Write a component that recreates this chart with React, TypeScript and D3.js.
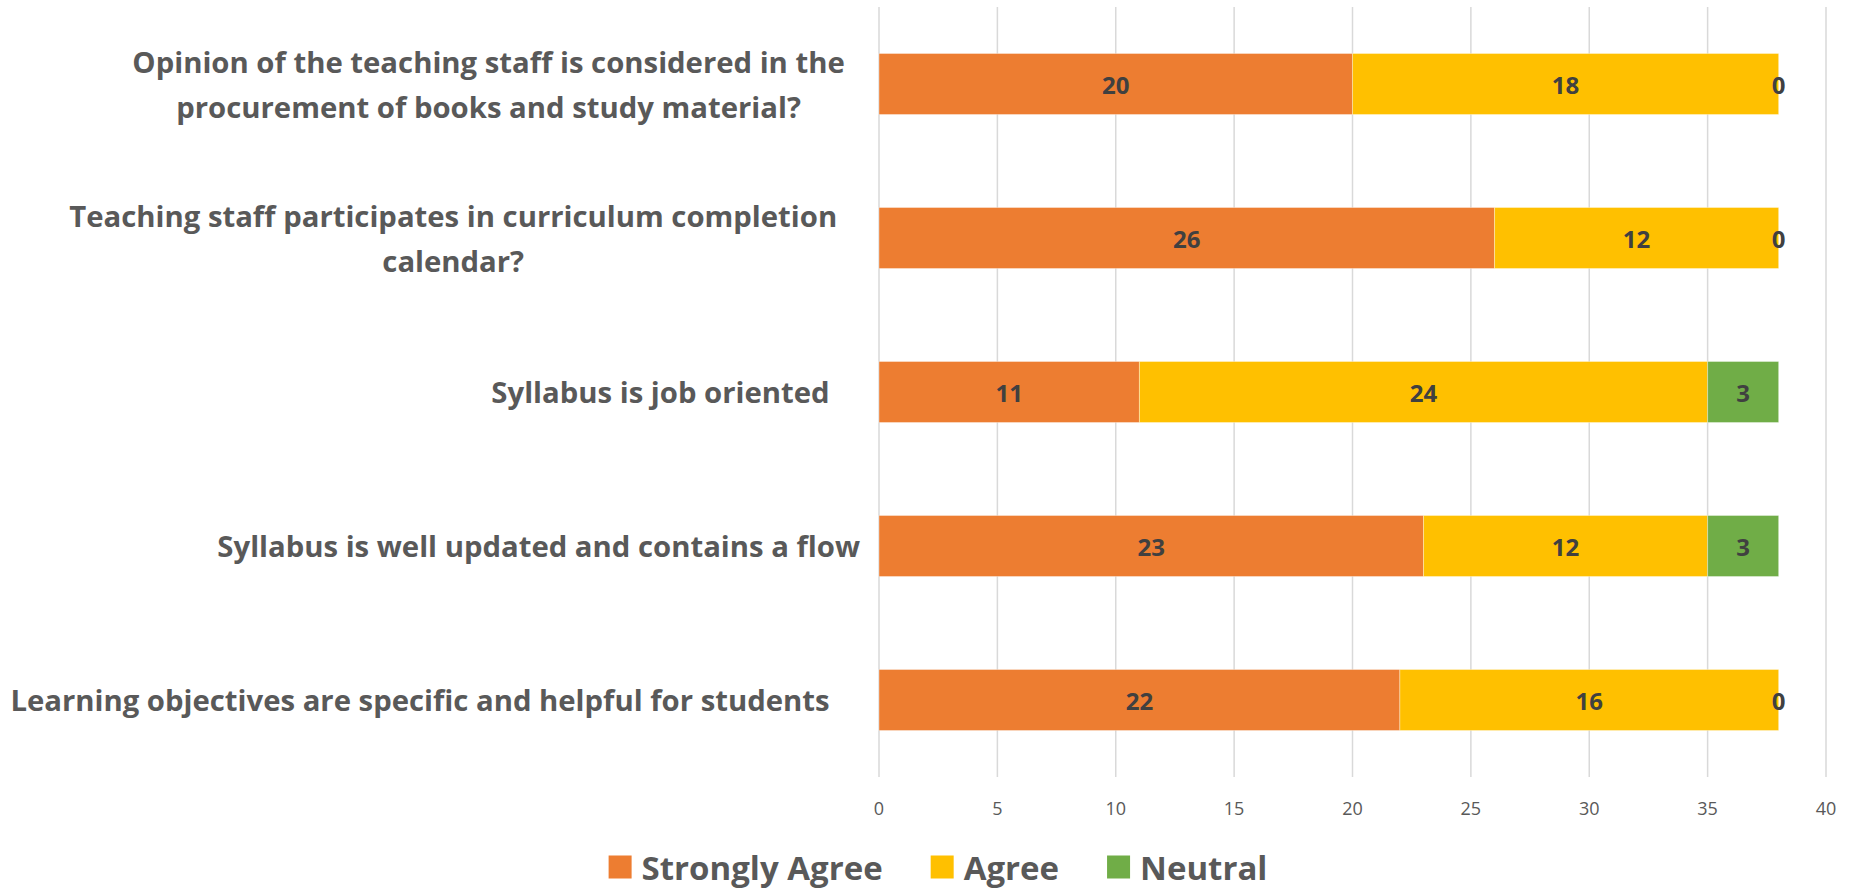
import React, { useEffect, useRef } from 'react';
import * as d3 from 'd3';

const categoryLines: string[][] = [
  ["Opinion of the teaching staff is considered in the  ", "procurement of books and study material?"],
  ["Teaching staff participates in curriculum completion   ", "calendar?"],
  ["Syllabus is job oriented    "],
  ["Syllabus is well updated and contains a flow"],
  ["Learning objectives are specific and helpful for students    "],
];
const stronglyAgree = [20, 26, 11, 23, 22];
const agree = [18, 12, 24, 12, 16];
const neutral = [0, 0, 3, 3, 0];
const seriesNames = ["Strongly Agree", "Agree", "Neutral"];
const seriesColors = ["#ED7D31", "#FFC000", "#70AD47"];
const xTicks = [0, 5, 10, 15, 20, 25, 30, 35, 40];

const W = 1860, H = 890;
const FONT = "'Open Sans', 'Noto Sans', sans-serif";

export default function App() {
  const ref = useRef<SVGSVGElement>(null);
  useEffect(() => {
    const svg = d3.select(ref.current);
    svg.selectAll('*').remove();
    const x = d3.scaleLinear().domain([0, 40]).range([879, 1826]);
    const y = d3.scaleBand<number>().domain(d3.range(categoryLines.length)).range([7, 777]).paddingInner(0.604).paddingOuter(0.302);

    // gridlines
    svg.append('g').selectAll('line').data(xTicks).join('line')
      .attr('x1', d => x(d)).attr('x2', d => x(d))
      .attr('y1', 7).attr('y2', 777)
      .attr('stroke', '#D9D9D9').attr('stroke-width', 1.5);

    // tick labels
    svg.append('g').selectAll('text').data(xTicks).join('text')
      .attr('x', d => x(d)).attr('y', 808)
      .attr('text-anchor', 'middle').attr('dominant-baseline', 'central')
      .attr('font-family', FONT).attr('font-size', 18).attr('fill', '#595959')
      .text(d => String(d));

    const series = [stronglyAgree, agree, neutral];
    const rows = categoryLines.map((_, i) => {
      let acc = 0;
      return series.map((s, k) => { const x0 = acc; acc += s[i]; return { i, k, x0, x1: acc, v: s[i] }; });
    });
    const segs = rows.flat();

    svg.append('g').selectAll('rect').data(segs.filter(d => d.v > 0)).join('rect')
      .attr('x', d => x(d.x0)).attr('width', d => x(d.x1) - x(d.x0))
      .attr('y', d => y(d.i)!).attr('height', y.bandwidth())
      .attr('fill', d => seriesColors[d.k])
      .attr('stroke', '#ffffff').attr('stroke-opacity', 0.35).attr('stroke-width', 1);

    svg.append('g').selectAll('text').data(segs).join('text')
      .attr('x', d => x((d.x0 + d.x1) / 2)).attr('y', d => y(d.i)! + y.bandwidth() / 2)
      .attr('text-anchor', 'middle').attr('dominant-baseline', 'central')
      .attr('font-family', FONT).attr('font-weight', 'bold').attr('font-size', 24).attr('fill', '#404040')
      .text(d => String(d.v));

    // category labels
    const R = 860;
    const lineH = 45;
    const catG = svg.append('g');
    categoryLines.forEach((lines, i) => {
      const cy = y(i)! + y.bandwidth() / 2;
      const g = catG.append('g');
      const mk = (s: string) => g.append('text')
        .attr('xml:space', 'preserve')
        .style('white-space', 'pre')
        .attr('font-family', FONT).attr('font-weight', 'bold').attr('font-size', 29.3).attr('fill', '#595959')
        .attr('dominant-baseline', 'central')
        .text(s);
      const texts = lines.map((ln, j) => mk(ln).attr('y', cy + (j - (lines.length - 1) / 2) * lineH));
      const full = texts.map(t => (t.node() as SVGTextElement).getComputedTextLength());
      const trimmed = lines.map(ln => {
        const t = mk(ln.trimEnd());
        const w = (t.node() as SVGTextElement).getComputedTextLength();
        t.remove();
        return w;
      });
      const widest = full.indexOf(Math.max(...full));
      const left = R - full[widest];
      const center = left + trimmed[widest] / 2;
      texts.forEach((t, j) => t.text(lines[j].trimEnd()).attr('x', center).attr('text-anchor', 'middle'));
    });

    // legend
    const lg = svg.append('g');
    const sq = 23, gapText = 10, gapItem = 48, ly = 867;
    const items = seriesNames.map((name, k) => {
      const t = lg.append('text').attr('font-family', FONT).attr('font-weight', 'bold').attr('font-size', 33)
        .attr('fill', '#595959').attr('dominant-baseline', 'central').attr('y', ly).text(name);
      return { t, k, w: (t.node() as SVGTextElement).getComputedTextLength() };
    });
    const total = items.reduce((s, it) => s + sq + gapText + it.w, 0) + gapItem * (items.length - 1);
    let cx = 938 - total / 2;
    items.forEach(it => {
      lg.append('rect').attr('x', cx).attr('y', ly - sq / 2).attr('width', sq).attr('height', sq).attr('fill', seriesColors[it.k]);
      it.t.attr('x', cx + sq + gapText);
      cx += sq + gapText + it.w + gapItem;
    });
  }, []);
  return (
    <svg ref={ref} width={W} height={H} style={{ position: 'absolute', left: 0, top: 0, background: '#fff' }} />
  );
}
